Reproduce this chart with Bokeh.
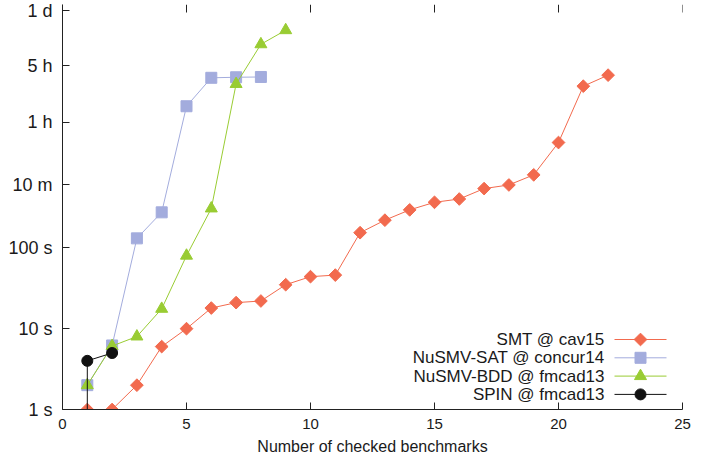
from bokeh.plotting import figure
from bokeh.models import Range1d, FixedTicker, LinearScale
from bokeh.core.properties import value
from bokeh.embed import file_html
from bokeh.resources import INLINE

# ---------------- data ----------------
smt_x = list(range(1, 23))
smt_y = [1, 1, 2, 6, 10, 18, 21, 22, 35, 44, 46, 154, 220, 295, 366, 402,
         541, 600, 800, 2010, 10000, 13700]

sat_x = list(range(1, 9))
sat_y = [2, 6.2, 131, 275, 5650, 12700, 12900, 13000]

bdd_x = list(range(1, 10))
bdd_y = [2, 6.1, 8, 17.6, 80, 307, 10640, 33000, 49300]

spin_x = [1, 1, 2]
spin_y = [0.5, 4, 5]

series_names = ["SMT @ cav15", "NuSMV-SAT @ concur14",
                "NuSMV-BDD @ fmcad13", "SPIN @ fmcad13"]

y_ticks = [1, 10, 100, 600, 3600, 18000, 86400]
y_tick_labels = ["1 s", "10 s", "100 s", "10 m", "1 h", "5 h", "1 d"]
x_ticks = [0, 5, 10, 15, 20, 25]
x_title = "Number of checked benchmarks"

# ---------------- style ----------------
FONT = "Liberation Sans"
AXIS_COLOR = "#222222"
TEXT_COLOR = "#1a1a1a"
RED = "#F26A4E"
BLUE = "#A3ACDD"
GREEN = "#99CC33"
BLACK = "#111111"

W, H = 691, 459
ML, MR, MT, MB = 62, 9, 4, 50
FW, FH = W - ML - MR, H - MT - MB
TICK_LEN = 7

p = figure(width=W, height=H, y_axis_type="log",
           x_range=Range1d(0, 25), y_range=Range1d(1, 102500),
           output_backend="svg", toolbar_location=None,
           min_border_left=ML, min_border_right=MR,
           min_border_top=MT, min_border_bottom=MB)
p.outline_line_color = None
p.xgrid.visible = False
p.ygrid.visible = False


def style_axis(ax, size):
    ax.axis_line_color = AXIS_COLOR
    ax.axis_line_width = 1
    ax.major_tick_line_color = AXIS_COLOR
    ax.major_tick_in = TICK_LEN
    ax.major_tick_out = 0
    ax.minor_tick_line_color = None
    ax.major_label_text_font = FONT
    ax.major_label_text_font_size = size
    ax.major_label_text_color = TEXT_COLOR


xa = p.xaxis[0]
style_axis(xa, "15px")
xa.ticker = FixedTicker(ticks=x_ticks)
xa.major_label_standoff = 9
xa.axis_label = x_title
xa.axis_label_text_font = FONT
xa.axis_label_text_font_size = "16px"
xa.axis_label_text_font_style = "normal"
xa.axis_label_text_color = TEXT_COLOR
xa.axis_label_standoff = 6

ya = p.yaxis[0]
style_axis(ya, "18px")
ya.ticker = FixedTicker(ticks=y_ticks)
ya.major_label_overrides = {t: lab for t, lab in zip(y_ticks, y_tick_labels)}
ya.major_label_standoff = 10

# pixel-space helper ranges (frame pixels) for mirrored ticks and legend
p.extra_x_ranges = {"px": Range1d(0, FW)}
p.extra_y_ranges = {"px": Range1d(0, FH)}
p.extra_x_scales = {"px": LinearScale()}
p.extra_y_scales = {"px": LinearScale()}

# mirrored top ticks (gnuplot style), at the x tick positions
p.segment(x0=x_ticks, x1=x_ticks, y0=[FH] * len(x_ticks),
          y1=[FH - TICK_LEN - 1] * len(x_ticks),
          line_color=AXIS_COLOR, line_width=1, y_range_name="px")

# ---------------- series ----------------
p.line(smt_x, smt_y, line_color=RED, line_width=1)
p.scatter(smt_x, smt_y, marker="square", angle=0.785398, size=9,
          fill_color=RED, line_color=RED)

p.line(sat_x, sat_y, line_color=BLUE, line_width=1)
p.scatter(sat_x, sat_y, marker="square", size=11,
          fill_color=BLUE, line_color=BLUE)

p.line(bdd_x, bdd_y, line_color=GREEN, line_width=1)
p.scatter(bdd_x, bdd_y, marker="triangle", size=12,
          fill_color=GREEN, line_color=GREEN)

p.line(spin_x, spin_y, line_color=BLACK, line_width=1)
p.scatter(spin_x, spin_y, marker="circle", size=11,
          fill_color=BLACK, line_color=BLACK)

# ---------------- legend (frame pixel space) ----------------
leg_text_x = FW - 78
leg_line_x0 = FW - 68
leg_line_x1 = FW - 16
leg_row_y = [70 - 18.3 * i for i in range(4)]
leg_colors = [RED, BLUE, GREEN, BLACK]
leg_markers = ["square", "square", "triangle", "circle"]
leg_angles = [0.785398, 0, 0, 0]
leg_sizes = [9, 11, 12, 11]

p.segment(x0=[leg_line_x0] * 4, x1=[leg_line_x1] * 4, y0=leg_row_y, y1=leg_row_y,
          line_color=leg_colors, line_width=1,
          x_range_name="px", y_range_name="px")
p.scatter(x=[(leg_line_x0 + leg_line_x1) / 2] * 4, y=leg_row_y,
          marker=leg_markers, angle=leg_angles, size=leg_sizes,
          fill_color=leg_colors, line_color=leg_colors,
          x_range_name="px", y_range_name="px")
p.text(x=[leg_text_x] * 4, y=leg_row_y, text=series_names,
       text_align="right", text_baseline="middle",
       text_font=value(FONT), text_font_size="17px", text_color=TEXT_COLOR,
       x_range_name="px", y_range_name="px")

open("out.html", "w").write(file_html(p, INLINE))
